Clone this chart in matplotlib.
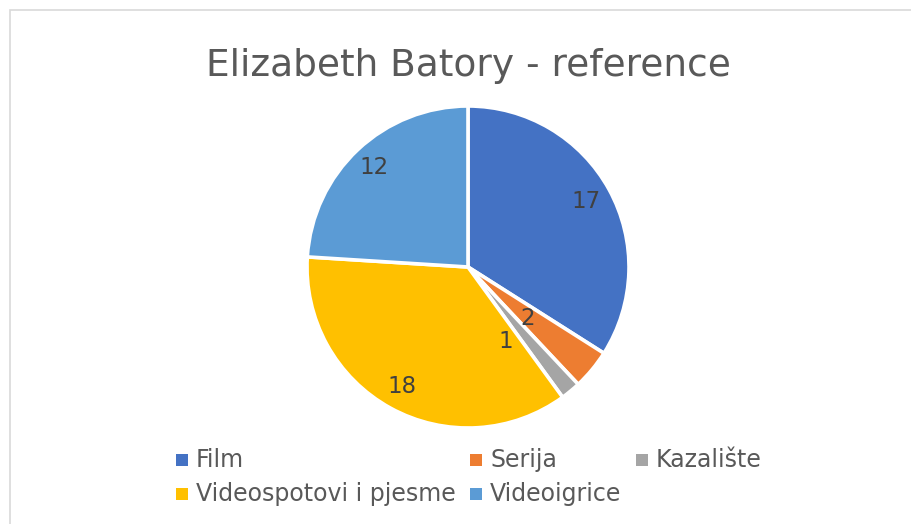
import numpy as np
import matplotlib.pyplot as plt
from matplotlib.patches import Rectangle

plt.rcParams['font.family'] = ['DejaVu Sans']

categories = ['Film', 'Serija', 'Kazalište', 'Videospotovi i pjesme', 'Videoigrice']
values = [17, 2, 1, 18, 12]
colors = ['#4472C4', '#ED7D31', '#A5A5A5', '#FFC000', '#5B9BD5']
title = 'Elizabeth Batory - reference'

# label placement (fraction of radius, angle nudge in degrees)
label_dist = [0.84, 0.49, 0.52, 0.85, 0.85]
label_nudge = [0, -1, -13, 0, 0]

W, H = 911, 524
fig = plt.figure(figsize=(W / 100, H / 100), dpi=100)
fig.patch.set_facecolor('white')

# chart border (only top and left visible in the crop)
fig.patches.append(Rectangle((9.5 / W, -0.1), 1.2, (H - 9.5) / H + 0.1,
                             transform=fig.transFigure, fill=False,
                             edgecolor='#D9D9D9', linewidth=1.2))

cx, cy, r = 468, 267, 161
ax = fig.add_axes([(cx - r) / W, (H - cy - r) / H, 2 * r / W, 2 * r / H])
wedges, _ = ax.pie(values, colors=colors, startangle=90, counterclock=False,
                   radius=1, wedgeprops=dict(edgecolor='white', linewidth=2.6))
ax.set_xlim(-1, 1)
ax.set_ylim(-1, 1)
ax.set_aspect('equal')
ax.axis('off')

for w, v, d, n in zip(wedges, values, label_dist, label_nudge):
    ang = np.deg2rad((w.theta1 + w.theta2) / 2 + n)
    ax.text(d * np.cos(ang), d * np.sin(ang), str(v), ha='center', va='center',
            fontsize=16.5, color='#404040')

fig.text(cx / W, 1 - 66 / H, title, ha='center', va='center',
         fontsize=27, color='#595959')

# legend laid out like the original
leg_pos = [(176, 460), (470, 460), (636, 460), (176, 494), (470, 494)]
for (lx, ly), name, c in zip(leg_pos, categories, colors):
    fig.patches.append(Rectangle(((lx) / W, 1 - (ly + 6) / H), 12 / W, 12 / H,
                                 transform=fig.transFigure, facecolor=c,
                                 edgecolor='none'))
    fig.text((lx + 20) / W, 1 - ly / H, name, ha='left', va='center',
             fontsize=17, color='#595959')

fig.savefig('out.png', dpi=100)
